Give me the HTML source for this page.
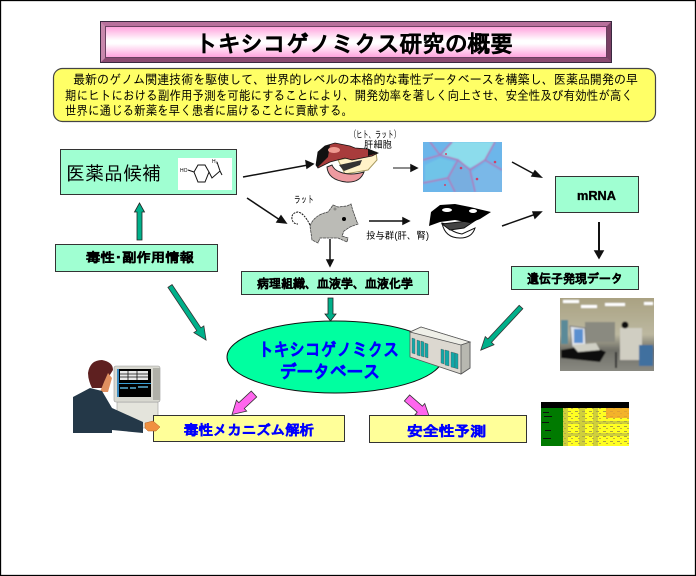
<!DOCTYPE html>
<html lang="ja"><head><meta charset="utf-8"><title>トキシコゲノミクス研究の概要</title>
<style>
html,body{margin:0;padding:0;background:#fff;width:696px;height:576px;overflow:hidden}
svg{display:block}
text{font-family:"Liberation Sans","IPAGothic","Noto Sans CJK JP",sans-serif}
.b{font-weight:bold}
.k{stroke:#000;stroke-width:.35}
.u{stroke:#0000ff;stroke-width:.45}
</style></head><body>
<svg xmlns="http://www.w3.org/2000/svg" width="696" height="576" viewBox="0 0 696 576">
<defs>
<linearGradient id="tg" x1="0" y1="0" x2="0" y2="1"><stop offset="0" stop-color="#ffa0dc"/><stop offset=".45" stop-color="#ffffff"/><stop offset=".55" stop-color="#ffffff"/><stop offset="1" stop-color="#ffa0dc"/></linearGradient>
<linearGradient id="room" x1="0" y1="0" x2="0" y2="1"><stop offset="0" stop-color="#a8a080"/><stop offset=".5" stop-color="#bcb8a0"/><stop offset=".7" stop-color="#6e6e66"/><stop offset="1" stop-color="#8c8c84"/></linearGradient>
<filter id="bl" x="-5%" y="-5%" width="110%" height="110%"><feGaussianBlur stdDeviation=".7"/></filter>
<filter id="bs" x="-5%" y="-5%" width="110%" height="110%"><feGaussianBlur stdDeviation=".35"/></filter>
<pattern id="hm" width="7" height="5" patternUnits="userSpaceOnUse"><rect width="7" height="5" fill="#ffff20"/><rect x="1" y="1" width="3" height="1" fill="#a8a040"/><rect x="4" y="3" width="2" height="1" fill="#c0b040"/></pattern>
<clipPath id="pc"><rect x="560" y="298" width="94" height="73"/></clipPath>
<clipPath id="cc"><rect x="423" y="142" width="79" height="50"/></clipPath>
</defs>
<rect x=".5" y=".5" width="695" height="575" fill="#fff" stroke="#000" stroke-width="1.300"/>

<!-- title -->
<rect x="100" y="21" width="512" height="42" fill="#3a2840"/>
<rect x="101" y="22" width="510" height="40" fill="#b0608c"/>
<polygon points="101,22 611,22 606,27 106,27" fill="#b8709c"/>
<polygon points="101,62 611,62 606,57 106,57" fill="#8a4a70"/>
<polygon points="611,22 611,62 606,57 606,27" fill="#7a4064"/>
<polygon points="101,22 101,62 106,57 106,27" fill="#c888ac"/>
<rect x="105.500" y="26.500" width="501" height="31" fill="url(#tg)" stroke="#6a4060"/>
<text x="195" y="52" font-size="23" class="b k" fill="#000" textLength="318" lengthAdjust="spacingAndGlyphs">トキシコゲノミクス研究の概要</text>

<!-- intro -->
<rect x="53.500" y="68.500" width="602" height="53" rx="9" fill="#ffff66" stroke="#444" stroke-width="1.200"/>
<g font-size="13" fill="#000">
<text x="73" y="84" textLength="565" lengthAdjust="spacingAndGlyphs">最新のゲノム関連技術を駆使して、世界的レベルの本格的な毒性データベースを構築し、医薬品開発の早</text>
<text x="65" y="100" textLength="568" lengthAdjust="spacingAndGlyphs">期にヒトにおける副作用予測を可能にすることにより、開発効率を著しく向上させ、安全性及び有効性が高く</text>
<text x="65" y="115" textLength="288" lengthAdjust="spacingAndGlyphs">世界に通じる新薬を早く患者に届けることに貢献する。</text>
</g>

<!-- drug candidate -->
<rect x="60.500" y="149.500" width="176" height="45" fill="#a0ffd2" stroke="#333"/>
<text x="66" y="180" font-size="19" fill="#000" textLength="95" lengthAdjust="spacingAndGlyphs">医薬品候補</text>
<rect x="178" y="158" width="54" height="32" fill="#fff"/>
<g fill="none" stroke="#111" stroke-width="1">
<polygon points="194,172 198,165 205,165 209,172 205,182 198,182"/>
<path d="M188 170L194 172M209 172L212 178L220 171L222 175M220 171L217 162"/>
</g>
<text x="180" y="172" font-size="5" fill="#000">HO</text>
<text x="212" y="163" font-size="5" fill="#000">H₂</text>

<!-- teal up arrow -->
<polygon points="137,240 142,240 142,212 144.500,212 139.500,203 134.500,212 137,212" fill="#00b08a" stroke="#222" stroke-width=".8"/>

<!-- side effect info -->
<rect x="55.500" y="244.500" width="162" height="27" fill="#a0ffd2" stroke="#333"/>
<text x="86" y="262" font-size="13" class="b k" fill="#000" textLength="108" lengthAdjust="spacingAndGlyphs">毒性･副作用情報</text>

<!-- black arrows -->
<g stroke="#111" stroke-width="1.500" fill="#111">
<line x1="243" y1="177" x2="308" y2="165"/><polygon points="313,164 306,161 307,168"/>
<line x1="247" y1="198" x2="280" y2="220"/><polygon points="286,223 281,216 277,222"/>
<line x1="393" y1="168" x2="412" y2="168" stroke="#666"/><polygon points="417,168 411,165 411,171"/>
<line x1="369" y1="221" x2="404" y2="221"/><polygon points="409,221 403,218 403,224"/>
<line x1="512" y1="162" x2="536" y2="175"/><polygon points="541,177 535,171 532,176"/>
<line x1="502" y1="226" x2="536" y2="214"/><polygon points="541,212 533,212 535,218"/>
<line x1="330" y1="239" x2="330" y2="262"/><polygon points="330,266 327,260 333,260"/>
<line x1="599" y1="222" x2="599" y2="253" stroke-width="2"/><polygon points="599,258 595,251 603,251"/>
</g>

<!-- labels small -->
<g font-size="10" fill="#000">
<text x="350" y="138" textLength="50" lengthAdjust="spacingAndGlyphs">（ヒト、ラット）</text>
<text x="364" y="148" textLength="28" lengthAdjust="spacingAndGlyphs">肝細胞</text>
<text x="294" y="203" textLength="20" lengthAdjust="spacingAndGlyphs">ラット</text>
<text x="366" y="239" textLength="63" lengthAdjust="spacingAndGlyphs">投与群(肝、腎)</text>
</g>

<!-- red liver -->
<path d="M338 160L376 152L377 160L368 170L345 174Z" fill="#fff2c8" stroke="#a89a60"/>
<path d="M327 167Q328 180 346 182Q360 183 364 172Q350 176 340 172Q334 170 332 165Z" fill="#ee9aa0" stroke="#222"/>
<path d="M316 165L318 152L325 146L335 143L350 146L355 148L368 149L378 153L372 156L352 160L345 158L330 162L318 168Z" fill="#a83c3c" stroke="#111" stroke-width=".8"/>
<path d="M316 165L318 152L325 146L330 145L328 157L318 167Z" fill="#111"/>
<ellipse cx="334" cy="150" rx="6" ry="3" fill="#ef9a90"/>
<path d="M368 149L378 153L368 156Z" fill="#111"/>
<path d="M339 165L362 160L360 165L344 171Z" fill="#333"/>

<!-- cells -->
<g clip-path="url(#cc)">
<g filter="url(#bl)">
<rect x="420" y="139" width="85" height="56" fill="#6cb6ea"/>
<polygon points="452,142 495,142 485,160 470,168 458,160 442,155" fill="#8cdcec"/>
<polygon points="458,162 470,172 472,192 456,192 449,178" fill="#78aee0"/>
<polygon points="425,165 440,158 455,162 447,177 425,182" fill="#70c4e8"/>
<polygon points="472,172 486,162 502,172 502,192 476,192" fill="#7ab8e8"/>
<g fill="none" stroke="#a880c0" stroke-width="1.800">
<path d="M423 160L440 155L458 160L470 170L485 160L502 170M440 155L452 142M458 160L448 178L455 192M470 170L475 192M485 160L495 142M448 178L423 183M430 142L440 155"/>
</g>
</g>
<g fill="#d04068"><circle cx="446" cy="154" r="1"/><circle cx="461" cy="168" r="1.300"/><circle cx="477" cy="179" r="1.300"/><circle cx="495" cy="162" r="1.300"/><circle cx="445" cy="185" r="1"/></g>
</g>

<!-- mouse -->
<path d="M310 225Q304 213 298 212Q291 213 292 219Q293 224 298 224" fill="none" stroke="#111" stroke-dasharray="2 1"/>
<path d="M310 226Q314 215 328 212L331 208L333 205L338 207L347 206L351 204L353 211L357 222L358 224L350 227L344 231L342 236L348 238L347 242L338 238L330 238L320 238L318 243L312 240Z" fill="#bbbbb6" stroke="#444" stroke-width=".8" stroke-dasharray="3 .6"/>
<circle cx="344" cy="219" r="2" fill="#000"/>
<circle cx="335" cy="209" r="1.500" fill="#8a8a86"/>

<!-- black liver -->
<path d="M442 223Q445 238 460 238Q472 238 475 228L462 234Q450 232 446 224Z" fill="#fff" stroke="#111"/>
<path d="M442 224L476 220L464 228L450 230Z" fill="#444" stroke="#111"/>
<path d="M429 226L431 212L440 205L455 204L470 207L491 212L480 219L470 223L455 220L440 222Z" fill="#000"/>
<ellipse cx="447" cy="210" rx="5" ry="2" fill="#fff"/><ellipse cx="473" cy="211" rx="4" ry="2" fill="#fff"/>

<!-- mRNA -->
<rect x="555.500" y="176.500" width="83" height="36" fill="#a0ffd2" stroke="#333"/>
<text x="577" y="200" font-size="13" class="b k" fill="#000" textLength="39" lengthAdjust="spacingAndGlyphs">mRNA</text>

<!-- gene expression -->
<rect x="511.500" y="266.500" width="127" height="23" fill="#a0ffd2" stroke="#333"/>
<text x="527" y="283" font-size="12.500" class="b k" fill="#000" textLength="96" lengthAdjust="spacingAndGlyphs">遺伝子発現データ</text>

<!-- pathology -->
<rect x="241.500" y="271.500" width="187" height="23" fill="#a0ffd2" stroke="#333"/>
<text x="257" y="288" font-size="12.500" class="b k" fill="#000" textLength="156" lengthAdjust="spacingAndGlyphs">病理組織、血液学、血液化学</text>

<!-- photo -->
<g clip-path="url(#pc)"><g filter="url(#bl)">
<rect x="558" y="296" width="98" height="77" fill="url(#room)"/>
<rect x="563" y="300" width="16" height="3" fill="#fff"/><rect x="581" y="305" width="16" height="3" fill="#fff"/><rect x="605" y="303" width="20" height="3" fill="#fff"/><rect x="644" y="302" width="9" height="3" fill="#fff"/>
<rect x="561" y="320" width="7" height="24" fill="#5a8a98"/>
<rect x="585" y="322" width="30" height="20" fill="#8a8a80"/>
<polygon points="570,326 585,328 586,346 572,347" fill="#dfe4ea" stroke="#777"/>
<rect x="574" y="329" width="9" height="14" fill="#5a8fd0"/>
<polygon points="561,350 590,345 606,352 600,362 561,358" fill="#111"/>
<polygon points="572,345 596,343 600,350 578,352" fill="#cfcfc4"/>
<rect x="620" y="328" width="22" height="32" fill="#d0cec2"/>
<circle cx="625" cy="325" r="3.500" fill="#111"/>
<rect x="639" y="345" width="14" height="21" fill="#3f6f9f"/>
<rect x="615" y="352" width="2" height="16" fill="#333"/>
</g></g>

<!-- teal arrows to DB -->
<polygon points="328,298 333,298 333,314 336,314 330.500,321 325,314 328,314" fill="#00b08a" stroke="#222" stroke-width=".8"/>
<g transform="translate(170,286) rotate(56.300)"><polygon points="0,-2.500 52,-2.500 52,-6 65,0 52,6 52,2.500 0,2.500" fill="#00b08a" stroke="#333" stroke-width=".8"/></g>
<g transform="translate(521,307) rotate(133)"><polygon points="0,-2.500 46,-2.500 46,-6 59,0 46,6 46,2.500 0,2.500" fill="#00b08a" stroke="#333" stroke-width=".8"/></g>

<!-- database ellipse -->
<ellipse cx="335" cy="357" rx="108" ry="36" fill="#00ffa0" stroke="#111" stroke-width="1"/>
<text x="258" y="356" font-size="18" class="b u" fill="#0000ff" textLength="141" lengthAdjust="spacingAndGlyphs">トキシコゲノミクス</text>
<text x="280" y="378" font-size="18" class="b u" fill="#0000ff" textLength="100" lengthAdjust="spacingAndGlyphs">データベース</text>

<!-- server -->
<polygon points="410,332 421,327 470,342 470,368 461,374 410,357" fill="#dcd8d0" stroke="#555" stroke-width=".8"/>
<polygon points="410,332 421,327 470,342 461,345" fill="#efefe8" stroke="#555" stroke-width=".8"/>
<polygon points="461,345 470,342 470,368 461,374" fill="#b8b8b0" stroke="#555" stroke-width=".8"/>
<g fill="#10a8a8" stroke="#555" stroke-width=".4">
<polygon points="412,338 415,339 415,354 412,353"/><polygon points="417,340 420,341 420,356 417,355"/><polygon points="421,341 424,342 424,357 421,356"/><polygon points="425,343 428,344 428,358 425,357"/>
<polygon points="441,349 444,350 444,364 441,363"/><polygon points="445,350 449,351 449,366 445,365"/><polygon points="451,352 455,353 455,368 451,367"/><polygon points="455,353 458,354 458,369 455,368"/>
</g>

<!-- person (behind box) -->
<rect x="117" y="402" width="41" height="26" fill="#e4e4dc" stroke="#999" stroke-width=".6"/>
<rect x="114" y="366" width="46" height="36" rx="2" fill="#d8d8d0" stroke="#999" stroke-width=".6"/>
<rect x="153" y="368" width="7" height="32" fill="#b0b0a8"/>
<rect x="117" y="369" width="34" height="28" fill="#000"/>
<rect x="120" y="371" width="28" height="9" fill="#e8e8e8"/>
<path d="M120 374H148M120 377H148M128 371V380M137 371V380" stroke="#111" stroke-width=".8"/>
<rect x="117" y="383" width="34" height="1" fill="#3aa0d8"/>
<path d="M120 388H128M130 388H136M138 387H148" stroke="#5ab0d8" stroke-width="1.500"/>
<rect x="117" y="369" width="2" height="28" fill="#3a8ac0"/>
<path d="M88 373Q90 360 102 360Q113 362 113 370L108 378L102 388L92 388Q88 380 88 373Z" fill="#5e2020"/>
<path d="M108 373L112 378L108 392L100 392L104 382Z" fill="#e09060"/>
<path d="M73 397L90 388L102 391L112 408L143 422L143 433L112 430L112 433L73 433Z" fill="#243848"/>

<!-- pink arrows -->
<g transform="translate(254,394) rotate(137)"><polygon points="0,-4 17,-4 17,-7.500 30,0 17,7.500 17,4 0,4" fill="#ff66ee" stroke="#333" stroke-width=".8"/></g>
<g transform="translate(407,398) rotate(41)"><polygon points="0,-4 17,-4 17,-7.500 30,0 17,7.500 17,4 0,4" fill="#ff66ee" stroke="#333" stroke-width=".8"/></g>

<!-- yellow result boxes -->
<rect x="153.500" y="415.500" width="191" height="26" fill="#ffff99" stroke="#333"/>
<text x="184" y="435" font-size="14" class="b u" fill="#0000ff" textLength="130" lengthAdjust="spacingAndGlyphs">毒性メカニズム解析</text>
<rect x="369.500" y="415.500" width="157" height="27" fill="#ffff99" stroke="#333"/>
<text x="407" y="436" font-size="14" class="b u" fill="#0000ff" textLength="79" lengthAdjust="spacingAndGlyphs">安全性予測</text>

<!-- hand over the box -->
<path d="M145 423L153 421L160 427L156 431L148 431L145 428Z" fill="#f09040" stroke="#b06020" stroke-width=".5"/>

<!-- heatmap -->
<g filter="url(#bs)">
<rect x="541" y="402" width="88" height="44" fill="url(#hm)"/>
<rect x="541" y="402" width="88" height="6" fill="#000"/>
<rect x="541" y="408" width="22" height="38" fill="#007a00"/>
<g fill="#111"><rect x="543" y="412" width="6" height="1"/><rect x="544" y="416" width="8" height="1"/><rect x="542" y="422" width="7" height="1"/><rect x="545" y="430" width="6" height="1"/><rect x="543" y="438" width="8" height="1"/></g>
<g fill="#a8a850" opacity=".55"><rect x="563" y="408" width="5" height="38"/><rect x="579" y="408" width="6" height="38"/><rect x="593" y="408" width="5" height="38"/><rect x="563" y="421" width="66" height="3"/><rect x="563" y="433" width="66" height="3"/></g>
<rect x="606" y="408" width="23" height="10" fill="#f0a030" opacity=".8"/>
</g>
</svg>
</body></html>
